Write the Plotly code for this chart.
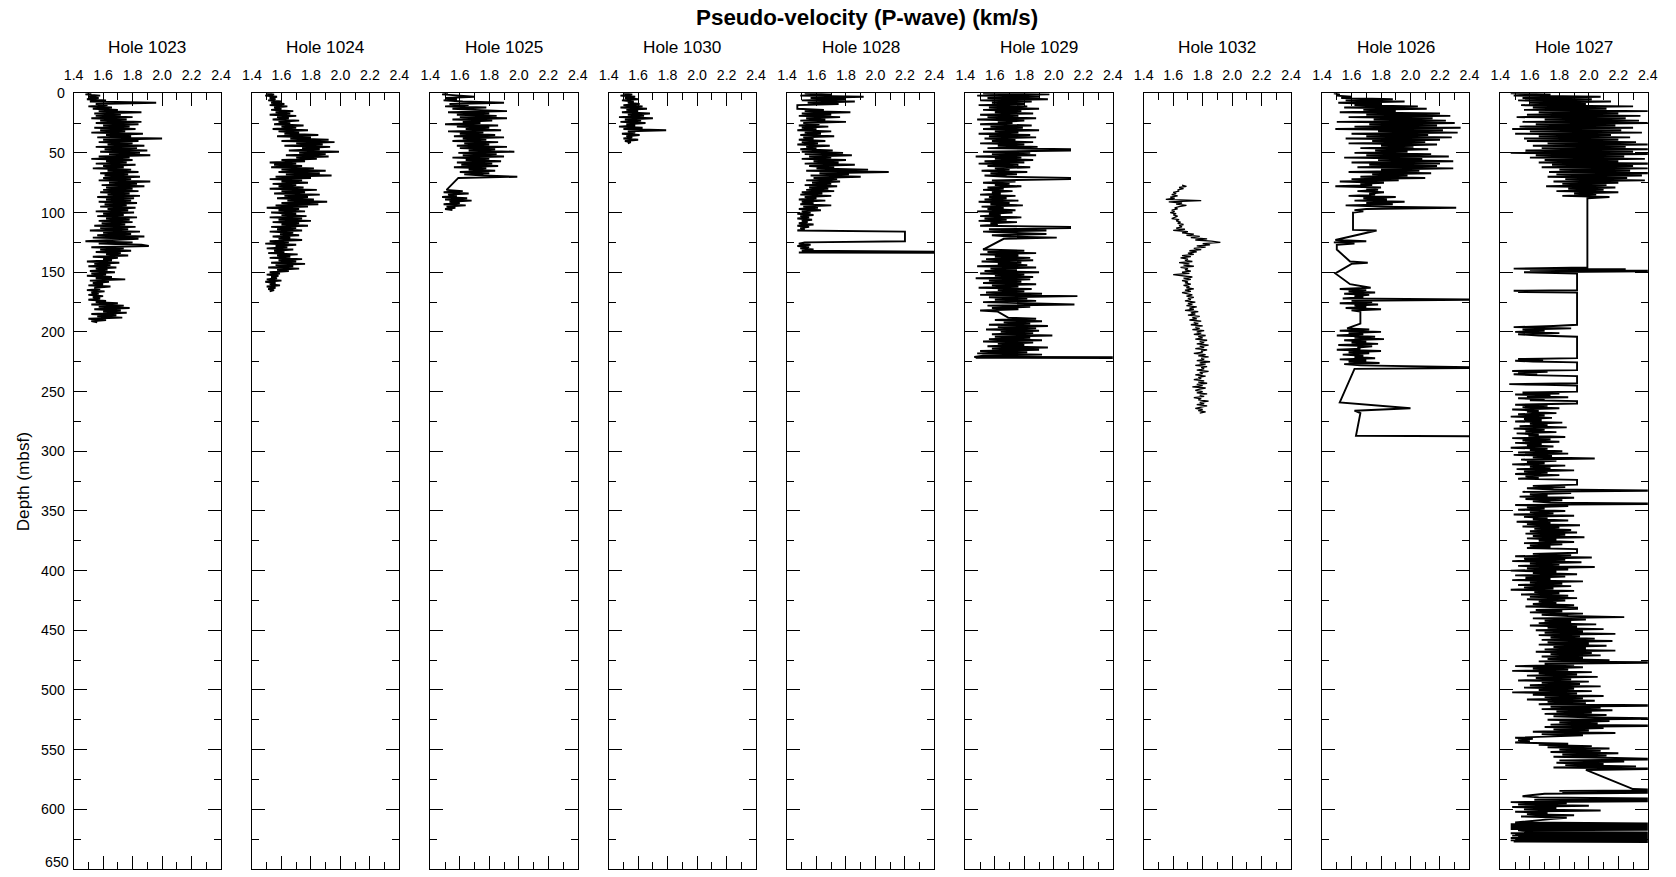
import plotly.graph_objects as go

# ------------------------------------------------------------------ labels
hole_names = ["Hole 1023", "Hole 1024", "Hole 1025", "Hole 1030", "Hole 1028",
              "Hole 1029", "Hole 1032", "Hole 1026", "Hole 1027"]
x_title = "Pseudo-velocity (P-wave) (km/s)"
y_title = "Depth (mbsf)"
x_ticks = [1.4, 1.6, 1.8, 2.0, 2.2, 2.4]
y_ticks = list(range(0, 651, 50))

# ------------------------------------------------------------------ data (km/s), runs start at depth (mbsf), 1 m sampling unless noted
h1023_start = 0
h1023_vel = [1.52,1.48,1.58,1.50,1.57,1.49,1.62,1.51,1.96,1.55,
             1.63,1.50,1.66,1.53,1.70,1.57,1.86,1.54,1.72,1.55,
             1.80,1.52,1.76,1.58,1.86,1.55,1.84,1.60,1.78,1.54,
             1.82,1.58,1.75,1.52,1.87,1.62,1.79,1.56,2.00,1.60,
             1.84,1.57,1.80,1.63,1.88,1.55,1.83,1.61,1.90,1.58,
             1.85,1.64,1.92,1.57,1.78,1.52,1.80,1.62,1.76,1.55,
             1.82,1.60,1.74,1.53,1.79,1.63,1.84,1.58,1.77,1.61,
             1.85,1.60,1.79,1.57,1.92,1.64,1.83,1.59,1.88,1.62,
             1.80,1.60,1.84,1.58,1.78,1.63,1.85,1.56,1.81,1.62,
             1.79,1.57,1.83,1.61,1.76,1.58,1.82,1.63,1.77,1.55,
             1.81,1.60,1.74,1.56,1.83,1.62,1.78,1.57,1.80,1.59,
             1.75,1.54,1.82,1.58,1.77,1.51,1.85,1.60,1.79,1.56,
             1.88,1.53,1.84,1.62,1.48,1.80,1.57,1.86,1.91,1.52,
             1.74,1.58,1.79,1.55,1.72,1.62,1.77,1.53,1.70,1.60,
             1.66,1.49,1.71,1.54,1.65,1.50,1.69,1.55,1.63,1.51,
             1.68,1.52,1.62,1.49,1.66,1.55,1.75,1.51,1.64,1.53,
             1.60,1.50,1.65,1.54,1.58,1.49,1.61,1.52,1.57,1.50,
             1.60,1.53,1.58,1.50,1.62,1.55,1.70,1.52,1.74,1.57,
             1.78,1.54,1.72,1.60,1.76,1.52,1.69,1.56,1.73,1.50,
             1.62,1.52,1.56]

h1024_start = 0
h1024_vel = [1.50,1.55,1.49,1.57,1.52,1.56,1.51,1.60,1.53,1.62,
             1.52,1.64,1.55,1.60,1.53,1.68,1.56,1.66,1.52,1.70,
             1.57,1.65,1.54,1.72,1.58,1.66,1.55,1.75,1.60,1.70,
             1.54,1.78,1.58,1.72,1.62,1.85,1.57,1.80,1.66,1.92,
             1.60,1.96,1.70,1.88,1.62,1.93,1.74,1.86,1.65,1.99,
             1.72,1.90,1.63,1.92,1.70,1.84,1.60,1.76,1.52,1.70,
             1.55,1.74,1.53,1.82,1.60,1.90,1.58,1.86,1.63,1.94,
             1.56,1.80,1.52,1.74,1.60,1.78,1.54,1.70,1.58,1.75,
             1.52,1.84,1.60,1.76,1.55,1.86,1.62,1.78,1.57,1.82,
             1.64,1.91,1.60,1.85,1.56,1.78,1.50,1.72,1.58,1.76,
             1.53,1.70,1.60,1.77,1.52,1.74,1.58,1.80,1.54,1.72,
             1.60,1.78,1.53,1.70,1.57,1.74,1.52,1.68,1.59,1.72,
             1.54,1.66,1.58,1.74,1.52,1.65,1.49,1.70,1.56,1.64,
             1.50,1.68,1.55,1.62,1.51,1.71,1.57,1.66,1.52,1.74,
             1.58,1.70,1.53,1.76,1.56,1.68,1.51,1.72,1.57,1.65,
             1.52,1.59,1.50,1.58,1.53,1.57,1.50,1.60,1.49,1.56,
             1.52,1.59,1.50,1.56,1.51,1.55,1.52]

h1025_a_start = 0
h1025_a_vel = [1.52,1.48,1.60,1.70,1.50,1.58,1.49,1.62,1.90,1.53,
               1.66,1.50,1.78,1.55,1.70,1.92,1.52,1.80,1.58,1.85,
               1.60,1.92,1.55,1.82,1.62,1.74,1.50,1.86,1.58,1.80,
               1.64,1.88,1.52,1.76,1.60,1.84,1.56,1.90,1.62,1.78,
               1.55,1.86,1.63,1.80,1.58,1.92,1.60,1.84,1.66,1.97,
               1.59,1.85,1.62,1.90,1.55,1.80,1.64,1.88,1.58,1.82,
               1.61,1.86,1.56,1.78,1.66,1.84,1.60,1.80,1.63,1.76,
               1.99,1.59]
h1025_b_start = 81
h1025_b_vel = [1.51,1.62,1.49,1.66,1.52,1.58,1.48,1.65,1.50,1.68,
               1.53,1.60,1.49,1.64,1.51,1.57,1.50,1.55]

h1030_start = 0
h1030_vel = [1.50,1.56,1.48,1.58,1.51,1.60,1.49,1.57,1.53,1.61,
             1.50,1.63,1.48,1.66,1.52,1.60,1.49,1.68,1.53,1.64,
             1.47,1.70,1.51,1.62,1.48,1.65,1.52,1.58,1.47,1.63,
             1.50,1.79,1.53,1.58,1.49,1.61,1.52,1.56,1.50,1.60,
             1.51,1.55,1.53]

h1028_a_start = 0
h1028_a_vel = [1.52,1.70,1.49,1.92,1.56,1.80,1.50,1.86,1.54,1.75,1.47]
h1028_b_start = 13
h1028_b_vel = [1.47,1.65,1.52,1.83,1.50,1.70,1.48,
               1.76,1.53,1.66,1.49,1.80,1.51,1.62,1.48,1.68,1.50,
               1.60,1.47,1.70,1.52,1.63,1.49,1.72,1.51,1.58,1.48,
               1.66,1.50,1.61,1.47,1.69,1.53,1.60,1.49,1.71,1.50,
               1.78,1.52,1.84,1.55,1.70,1.50,1.80,1.58,1.75,1.52,
               1.86,1.55,1.72,1.60,1.95,1.53,2.09,1.62,1.82,1.56,
               1.90,1.58,1.74,1.53,1.76,1.57,1.70,1.52,1.74,1.55,
               1.68,1.53,1.72,1.50,1.64,1.49,1.70,1.52,1.60,1.48,
               1.66,1.50,1.58,1.49,1.70,1.51,1.61,1.48,1.63,1.50,
               1.56,1.47,1.58,1.49,1.55,1.47,1.57,1.50,1.54,1.48,
               1.58,1.47,1.55,1.49,1.52,1.47,
               2.20,2.20,2.20,2.20,2.20,2.20,2.20,2.20,2.20,
               1.52,1.48,1.56,1.47,1.55,1.49,1.58,1.50]
h1028_c_depth = [133.0, 133.4, 133.8]
h1028_c_vel = [2.60, 1.48, 2.60]

h1029_a_start = 0
h1029_a_vel = [1.52,1.97,1.48,1.90,1.55,1.96,1.50,1.85,1.58,1.80,
               1.49,1.82,1.56,1.90,1.52,1.78,1.60,1.86,1.50,1.76,
               1.55,1.88,1.48,1.80,1.62,1.72,1.50,1.85,1.57,1.79,
               1.52,1.90,1.60,1.76,1.49,1.84,1.56,1.88,1.53,1.74,
               1.58,1.86,1.50,1.80,1.62,1.89,1.55,2.11,2.11,1.52,
               1.84,1.58,1.88,1.47,1.78,1.60,1.86,1.53,1.80,1.49,
               1.76,1.55,1.84,1.60,1.70,1.51,1.82,1.57,1.75,1.53,
               1.68,2.11,2.11,1.58,1.74,1.52,1.70,1.60,1.78,1.55,
               1.66,1.52,1.72,1.58,1.64,1.50,1.74,1.56,1.68,1.53,
               1.76,1.49,1.70,1.57,1.79,1.51,1.66,1.55,1.74,1.48,
               1.72,1.56,1.64,1.50,1.78,1.53,1.68,1.49,1.75,1.57,
               1.62,1.50,2.11,2.11,1.56,1.95,1.52,1.74,1.95,1.58,
               1.70,2.02,1.66]
h1029_b_start = 131
h1029_b_vel = [1.52,1.80,1.55,1.88,1.50,1.76,1.60,1.84,1.54,
               1.86,1.51,1.78,1.62,1.82,1.48,1.88,1.57,1.75,1.53,
               1.90,1.50,1.80,1.60,1.86,1.47,1.84,1.56,1.78,1.52,
               1.88,1.58,1.76,1.49,1.85,1.62,1.80,1.54,1.92,1.50,
               2.16,1.56,1.82,1.60,1.88,1.52,1.79,2.14,1.55,1.84,
               1.58,1.76,1.50,1.62]
h1029_c_start = 188
h1029_c_vel = [1.69,1.88,
               1.60,1.92,1.66,1.84,1.56,1.96,1.62,1.88,1.54,1.90,
               1.64,1.86,1.58,1.99,1.60,1.84,1.56,1.92,1.52,1.86,
               1.62,1.80,1.55,1.96,1.58,1.90,1.50,1.82,1.48,1.92,
               1.52,1.46]
h1029_d_depth = [221.3, 221.6, 222.0]
h1029_d_vel = [2.60, 1.47, 2.60]

h1032_start = 77
h1032_vel = [1.66,1.69,1.64,
             1.67,1.63,1.64,1.60,1.62,1.59,1.63,1.58,1.61,1.55,
             1.79,1.57,1.66,1.62,1.69,1.64,1.61,1.63,1.59,1.61,
             1.58,1.62,1.60,1.63,1.61,1.59,1.64,1.62,1.65,1.63,
             1.67,1.64,1.66,1.62,1.68,1.60,1.70,1.66,1.74,1.69,
             1.78,1.72,1.83,1.75,1.86,1.92,1.80,1.85,1.76,1.82,
             1.74,1.79,1.71,1.76,1.70,1.74,1.66,1.72,1.65,1.70,
             1.68,1.73,1.64,1.71,1.67,1.74,1.65,1.70,1.68,1.72,
             1.66,1.71,1.60,1.69,1.73,1.67,1.72,1.66,1.70,1.68,
             1.72,1.67,1.71,1.69,1.74,1.68,1.72,1.66,1.70,1.73,
             1.69,1.74,1.70,1.72,1.68,1.75,1.70,1.73,1.69,1.76,
             1.71,1.74,1.68,1.77,1.72,1.75,1.70,1.78,1.73,1.76,
             1.71,1.79,1.74,1.77,1.72,1.80,1.75,1.78,1.73,1.81,
             1.76,1.79,1.74,1.82,1.77,1.80,1.75,1.83,1.78,1.81,
             1.76,1.84,1.78,1.81,1.75,1.83,1.79,1.80,1.74,1.82,
             1.77,1.84,1.79,1.81,1.76,1.85,1.78,1.82,1.75,1.83,
             1.79,1.81,1.76,1.84,1.78,1.80,1.75,1.82,1.77,1.79,
             1.74,1.81,1.77,1.83,1.76,1.80,1.73,1.82,1.78,1.75,
             1.80,1.76,1.83,1.78,1.81,1.74,1.79,1.77,1.84,1.78,
             1.81,1.76,1.83,1.79,1.75,1.80,1.77,1.82,1.78]

h1026_a_start = 0
h1026_a_vel = [1.48,1.52,1.50,1.60,1.53,1.88,1.56,1.96,1.51,1.80,
               1.62,2.05,1.55,2.11,1.68,1.90,1.52,2.20,1.70,2.27,
               1.58,2.15,1.75,2.24,1.50,2.30,1.72,2.18,1.62,2.34,
               1.49,2.22,1.78,2.32,1.60,2.12,1.70,2.28,1.56,2.20,
               1.74,2.10,1.58,2.18,1.80,2.02,1.66,2.12,1.76,1.98,
               1.62,2.14,1.70,2.26,1.55,2.08,1.78,2.29,1.60,2.20,
               1.72,2.18,1.64,2.29,1.80,2.06,1.58,2.14,1.74,1.98,
               1.66,2.10,1.60,1.92,1.52,1.82,1.66,1.74,1.49,1.80,
               1.70,1.78,1.64,1.82,1.72,1.76,1.58,1.90,1.68,1.84,
               1.62,1.96,1.70,1.88,1.56,1.80,2.31,1.70]
h1026_b_depth = [98, 99, 100, 114.5, 115, 123, 124, 125, 126, 127, 131,
                 141, 142, 143, 151, 160, 163]
h1026_b_vel = [1.62, 1.68, 1.61, 1.61, 1.77, 1.49, 1.70, 1.48, 1.62, 1.50, 1.50,
               1.59, 1.71, 1.60, 1.49, 1.59, 1.73]
h1026_c_start = 164
h1026_c_vel = [1.52,1.70,1.58,1.76,1.55,1.72,1.62,1.68,1.54,2.60,
               1.60,1.74,1.52,1.78,1.62,1.70,1.56,1.80,1.60,1.66]
h1026_d_depth = [193, 197]
h1026_d_vel = [1.66, 1.57]
h1026_e_start = 198
h1026_e_vel = [1.72,1.52,1.80,1.58,1.68,1.50,1.76,1.62,1.82,1.55,
               1.70,1.60,1.78,1.51,1.74,1.64,1.66,1.50,1.80,1.58,
               1.72,1.54,1.68,1.62,1.76,1.52,1.70,1.58,1.79,1.55,1.66]
h1026_f_depth = [230, 231, 259, 264, 266, 268, 287, 287.5]
h1026_f_vel = [2.60, 1.62, 1.52, 2.00, 1.62, 1.66, 1.63, 2.60]

h1027_a_start = 0
h1027_a_vel = [1.47,1.74,1.49,2.08,1.55,2.02,1.52,2.15,1.60,1.98,
               1.54,2.30,1.62,2.12,1.56,2.40,1.66,2.20,1.58,2.35,
               1.51,2.25,1.70,2.34,1.55,2.40,1.64,2.18,1.53,2.30,
               1.48,2.22,1.60,2.36,1.50,2.15,1.66,2.28,1.56,2.20,
               1.58,2.32,1.72,2.40,1.62,2.25,1.68,2.45,1.57,2.30,
               1.47,2.45,1.64,2.24,1.60,2.38,1.70,2.20,1.66,2.46,
               1.75,2.30,1.68,2.40,1.80,2.28,1.73,2.50,1.78,2.36,
               1.72,2.26,1.84,2.38,1.76,2.20,1.82,2.12,1.71,2.18,
               1.86,2.10,1.78,2.20,1.90,2.05,1.82,2.14,1.99]
h1027_b_depth = [146, 147, 147.5, 148, 149, 150, 151, 165, 165.5, 166, 166.5, 167,
                 194, 195, 196, 197, 198, 199, 200, 201, 202, 203,
                 204, 222, 222.7, 223.4, 224.1, 224.8, 225.5, 232,
                 232.7, 233.4, 234.1, 234.8, 235.5, 236.2, 237, 243,
                 243.7, 244.4, 245, 250,
                 250.8, 251.6, 252.4, 253.2, 254, 254.8, 255.6, 256.4, 257.2,
                 258, 260]
h1027_b_vel = [1.99, 1.49, 2.25, 1.60, 2.60, 1.56, 1.92, 1.92, 1.49, 1.69, 1.52, 1.92,
               1.92, 1.76, 1.49, 1.88, 1.55, 1.70, 1.50, 1.80, 1.52, 1.66,
               1.92, 1.92, 1.52, 1.69, 1.50, 1.62, 1.92, 1.92,
               1.48, 1.72, 1.52, 1.65, 1.49, 1.60, 1.92, 1.92,
               1.46, 1.70, 1.92, 1.92,
               1.55, 1.80, 1.50, 1.74, 1.58, 1.86, 1.52, 1.70, 1.60,
               1.92, 1.92]
h1027_c_start = 261
h1027_c_vel = [1.50,1.72,1.55,1.80,1.48,1.66,1.58,1.78,1.52,
               1.70,1.47,1.75,1.56,1.68,1.50,1.82,1.60,1.72,1.53,
               1.85,1.49,1.70,1.57,1.78,1.51,1.66,1.59,1.84,1.48,
               1.74,1.55,1.80,1.50,1.68,1.58,1.76,1.47,1.72,1.60,
               1.82,1.52,1.86,1.49,1.75,1.62,2.04,1.54,1.78,1.58,
               1.70,1.48,1.84,1.60,1.74,1.51,1.90,1.56,1.72,1.50,
               1.80,1.57,1.66,1.52,1.92,1.92]
h1027_d_start = 328
h1027_d_vel = [1.92,1.62,1.84,1.58,1.76,2.60,1.55,1.88,1.60,1.72,1.53,1.90,
               1.57,1.82,1.62,1.74,2.60,1.50,1.86,1.58,1.70,1.52,
               1.84,1.60,1.76,1.49,1.90,1.56,1.72,1.62,1.86,1.51,
               1.74,1.58,1.94,1.55,1.80,1.63,1.88,1.60,1.92,1.57,
               1.84,1.62,1.97,1.58,1.78,1.66,1.90,1.56,1.82,1.60,
               1.74,1.58,1.92,1.92,1.92,1.92]
h1027_e_start = 386
h1027_e_vel = [1.62,1.88,1.50,2.02,
               1.56,1.84,1.48,1.95,1.60,1.80,1.52,2.04,1.58,1.86,
               1.47,1.78,1.62,1.92,1.50,1.84,1.57,1.74,1.48,1.96,
               1.60,1.82,1.52,1.88,1.56,1.76,1.47,1.90,1.63,1.80,
               1.54,1.86,1.60,1.92,1.58,1.84,1.66,1.78,1.62,1.90,
               1.57,1.92,1.92,1.64,1.82,1.60,1.96,1.68,1.86,2.24,
               1.62,1.98,1.70,1.88,1.66,2.05,1.60,1.92,1.72,2.10,
               1.64,1.96,1.70,2.18,1.66,1.94,1.74,2.04,1.68,2.16,
               1.72,2.00,1.66,2.12,1.76,1.98,1.70,2.18,1.64,2.02,
               1.74,2.08,1.68,1.96,1.72,2.14,1.66,2.60,1.70,1.90,
               1.50,1.96,1.62,1.86,1.48,2.02,1.66,1.92,1.58,2.06,
               1.64,1.88,1.52,2.00,1.68,1.94,1.60,2.08,1.56,1.90,
               1.66,2.02,1.48,1.92,1.62,2.10,1.70,1.96,1.58,2.04,
               1.72,1.98,1.66,2.60,1.74,2.08,1.68,2.16,1.78,2.02,
               1.70,2.12,1.76,2.04,2.60,1.72,2.14,1.80,2.06,1.74,
               2.60,1.70,2.10,1.76,2.00,1.62,2.18,1.68,1.96,1.72,
               1.50,1.62,1.52,1.60,1.50,1.86,1.66,2.02,1.72,2.14,
               1.80,2.08,1.74,2.20,1.82,2.12,1.76,2.18,2.60,1.80,
               2.24,1.78,2.10,1.84,2.32,1.76,2.60]
h1027_f_depth = [567, 583, 584, 584.5, 585, 585.5, 586, 587, 588, 589, 590,
                 591, 592, 593, 594]
h1027_f_vel = [1.98, 2.30, 2.60, 1.80, 2.60, 1.82, 2.60, 1.70, 1.62, 1.55, 1.66,
               2.60, 1.63, 2.60, 1.47]
h1027_g_start = 595
h1027_g_vel = [1.85,1.52,2.00,1.48,1.78,1.56,2.08,1.50,1.72,1.58,1.90,1.54,
               1.85,1.76,1.66,1.58,1.50]
h1027_h_start = 612
h1027_h_step = 0.5
h1027_h_vel = [2.60,1.47,2.60,1.47,2.60,1.47,2.60,1.47,2.60,1.47,2.60,
               1.52,1.55,1.60,1.56,
               2.60,1.47,2.60,1.50,2.60,1.48,2.60,1.52,2.60,1.47,2.60,1.50,
               2.60,1.47,2.60,1.49,2.60]


# ------------------------------------------------------------------ assemble
def run(start, vals, step=1.0):
    return [start + step * k for k in range(len(vals))], list(vals)


def pts(depths, vals):
    return list(depths), list(vals)


def join(*parts):
    d, v = [], []
    for pd, pv in parts:
        d += pd
        v += pv
    return d, v


series = [
    run(h1023_start, h1023_vel),
    run(h1024_start, h1024_vel),
    join(run(h1025_a_start, h1025_a_vel), run(h1025_b_start, h1025_b_vel)),
    run(h1030_start, h1030_vel),
    join(run(h1028_a_start, h1028_a_vel), run(h1028_b_start, h1028_b_vel),
         pts(h1028_c_depth, h1028_c_vel)),
    join(run(h1029_a_start, h1029_a_vel), run(h1029_b_start, h1029_b_vel),
         run(h1029_c_start, h1029_c_vel), pts(h1029_d_depth, h1029_d_vel)),
    run(h1032_start, h1032_vel),
    join(run(h1026_a_start, h1026_a_vel), pts(h1026_b_depth, h1026_b_vel),
         run(h1026_c_start, h1026_c_vel), pts(h1026_d_depth, h1026_d_vel),
         run(h1026_e_start, h1026_e_vel), pts(h1026_f_depth, h1026_f_vel)),
    join(run(h1027_a_start, h1027_a_vel), pts(h1027_b_depth, h1027_b_vel),
         run(h1027_c_start, h1027_c_vel), run(h1027_d_start, h1027_d_vel),
         run(h1027_e_start, h1027_e_vel), pts(h1027_f_depth, h1027_f_vel),
         run(h1027_g_start, h1027_g_vel),
         run(h1027_h_start, h1027_h_vel, h1027_h_step)),
]
line_widths = [1.9, 1.9, 1.9, 1.9, 1.9, 1.9, 1.3, 1.9, 1.9]

# ------------------------------------------------------------------ layout geometry
# Figure coordinates (the page adds an 8 px body margin and the capture is
# scaled by ~0.989, so these are chosen to land on the reference positions).
W, H = 1676, 870
panel_left0, panel_pitch, panel_w = 64.4, 180.5, 149.2
plot_top, plot_bottom = 86.0, 869.0
FONT = "Liberation Sans, Arial, Helvetica, sans-serif"

fig = go.Figure()
layout = dict(
    width=W, height=H, autosize=False,
    margin=dict(l=0, r=0, t=0, b=0),
    paper_bgcolor="white", plot_bgcolor="white",
    showlegend=False,
    font=dict(family=FONT, color="black", size=14),
)
annotations = []
y_ticktext = [str(t) if t != 650 else "" for t in y_ticks]
for i, (d, v) in enumerate(series):
    n = "" if i == 0 else str(i + 1)
    x0 = (panel_left0 + panel_pitch * i) / W
    x1 = x0 + panel_w / W
    fig.add_trace(go.Scatter(
        x=v, y=d, mode="lines",
        line=dict(color="black", width=line_widths[i]),
        xaxis="x" + n, yaxis="y" + n, hoverinfo="skip",
    ))
    layout["xaxis" + n] = dict(
        domain=[x0, x1], range=[1.4, 2.4], anchor="y" + n, side="top",
        tickvals=x_ticks, ticktext=["%.1f" % t for t in x_ticks],
        ticks="inside", ticklen=13, tickwidth=1, tickcolor="black",
        ticklabelstandoff=7,
        minor=dict(dtick=0.1, tick0=1.4, ticks="inside", ticklen=7,
                   tickwidth=1, tickcolor="black"),
        showline=True, linecolor="black", linewidth=1, mirror="allticks",
        showgrid=False, zeroline=False, tickfont=dict(size=14.2, family=FONT),
        fixedrange=True,
    )
    layout["yaxis" + n] = dict(
        domain=[1 - plot_bottom / H, 1 - plot_top / H], range=[650, 0],
        anchor="x" + n, tickvals=y_ticks, ticktext=y_ticktext,
        showticklabels=(i == 0),
        ticks="inside", ticklen=13, tickwidth=1, tickcolor="black",
        ticklabelstandoff=5,
        minor=dict(dtick=25, tick0=0, ticks="inside", ticklen=7,
                   tickwidth=1, tickcolor="black"),
        showline=True, linecolor="black", linewidth=1, mirror="allticks",
        showgrid=False, zeroline=False, tickfont=dict(size=14.2, family=FONT),
        fixedrange=True,
    )
    annotations.append(dict(
        text=hole_names[i], xref="paper", yref="paper",
        x=(x0 + x1) / 2, y=1 - 39.5 / H, xanchor="center", yanchor="middle",
        showarrow=False, font=dict(size=17.2, family=FONT, color="black"),
    ))

# bottom depth label sits at the page edge: anchor it from below so it stays visible
annotations.append(dict(
    text=str(y_ticks[-1]), xref="paper", yref="paper",
    x=(panel_left0 - 5) / W, y=0, xanchor="right", yanchor="bottom",
    showarrow=False, font=dict(size=14.2, family=FONT, color="black"),
    borderpad=0, borderwidth=0,
))
annotations.append(dict(
    text="<b>" + x_title + "</b>", xref="paper", yref="paper",
    x=867 / W, y=1 - 9.7 / H, xanchor="center", yanchor="middle",
    showarrow=False, font=dict(size=22.4, family=FONT, color="black"),
))
annotations.append(dict(
    text=y_title, xref="paper", yref="paper", textangle=-90,
    x=13.5 / W, y=1 - 478.4 / H, xanchor="center", yanchor="middle",
    showarrow=False, font=dict(size=17.2, family=FONT, color="black"),
))
layout["annotations"] = annotations
fig.update_layout(**layout)
fig.write_html("out.html")
